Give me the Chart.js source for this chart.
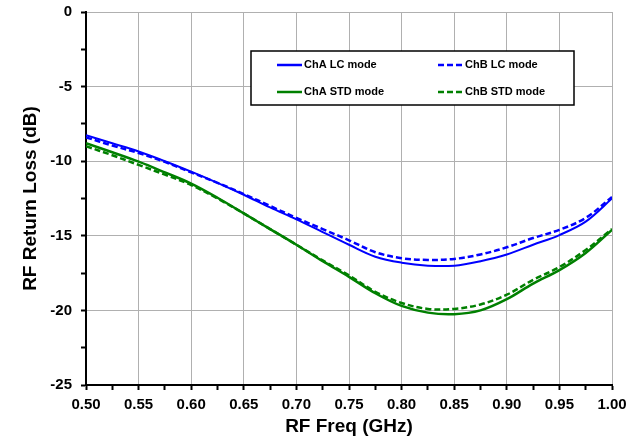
<!DOCTYPE html>
<html>
<head>
<meta charset="utf-8">
<script src="https://cdn.jsdelivr.net/npm/chart.js@4"></script>
<style>
  html, body { margin: 0; padding: 0; background: #fff; }
  #wrap { width: 641px; height: 438px; }
</style>
</head>
<body>
<div id="wrap"><canvas id="chart" width="641" height="438"></canvas></div>
<script>
/* ── data ── */
const FREQ = [0.500, 0.525, 0.550, 0.575, 0.600, 0.625, 0.650, 0.675, 0.700, 0.725, 0.750,
              0.775, 0.800, 0.825, 0.850, 0.875, 0.900, 0.925, 0.950, 0.975, 1.000];

const CHA_LC  = [-8.25, -8.8, -9.35, -10.0, -10.7, -11.45, -12.25, -13.1, -13.9, -14.75, -15.6,
                 -16.4, -16.8, -17.0, -17.0, -16.7, -16.25, -15.6, -14.95, -14.05, -12.5];
const CHB_LC  = [-8.4, -8.95, -9.45, -10.05, -10.75, -11.45, -12.2, -13.0, -13.8, -14.55, -15.3,
                 -16.1, -16.5, -16.62, -16.55, -16.25, -15.77, -15.15, -14.6, -13.8, -12.4];
const CHA_STD = [-8.8, -9.4, -10.03, -10.75, -11.5, -12.45, -13.5, -14.55, -15.6, -16.7, -17.75,
                 -18.85, -19.7, -20.15, -20.25, -20.0, -19.25, -18.2, -17.3, -16.15, -14.6];
const CHB_STD = [-9.0, -9.6, -10.25, -10.9, -11.6, -12.5, -13.5, -14.55, -15.6, -16.65, -17.65,
                 -18.75, -19.5, -19.9, -19.9, -19.6, -18.95, -17.95, -17.1, -15.95, -14.55];

const SERIES_LABELS = ["ChA LC mode", "ChB LC mode", "ChA STD mode", "ChB STD mode"];

const BLUE = "#0000ff";
const GREEN = "#008000";
const GRID = "#b0b0b0";
const FONT = "'Liberation Sans', Arial, sans-serif";

function pairs(ys) {
  return FREQ.map(function (f, i) { return { x: f, y: ys[i] }; });
}

function isMajor(v, step) {
  var q = v / step;
  return Math.abs(q - Math.round(q)) < 1e-6;
}

/* ── boxed legend inside the plot area ── */
const boxLegend = {
  id: "boxLegend",
  afterDraw: function (chart) {
    var ctx = chart.ctx;
    var a = chart.chartArea;
    var bx = a.left + 165, by = a.top + 39, bw = 323, bh = 54;
    ctx.save();
    ctx.fillStyle = "#fff";
    ctx.fillRect(bx, by, bw, bh);
    ctx.strokeStyle = "#000";
    ctx.lineWidth = 1.5;
    ctx.strokeRect(bx, by, bw, bh);

    ctx.font = "bold 11px " + FONT;
    ctx.textBaseline = "middle";
    ctx.textAlign = "left";
    chart.data.datasets.forEach(function (ds, i) {
      var col = i % 2, row = Math.floor(i / 2);
      var x0 = bx + 26 + col * 161;
      var y = by + 14 + row * 27;
      ctx.strokeStyle = ds.borderColor;
      ctx.lineWidth = 2.5;
      ctx.setLineDash(ds.borderDash || []);
      ctx.beginPath();
      ctx.moveTo(x0, y);
      ctx.lineTo(x0 + 25, y);
      ctx.stroke();
      ctx.setLineDash([]);
      ctx.fillStyle = "#000";
      ctx.fillText(ds.label, x0 + 27, y);
    });
    ctx.restore();
  }
};

new Chart(document.getElementById("chart").getContext("2d"), {
  type: "line",
  data: {
    datasets: [
      { label: SERIES_LABELS[0], data: pairs(CHA_LC),  borderColor: BLUE,  borderWidth: 2 },
      { label: SERIES_LABELS[1], data: pairs(CHB_LC),  borderColor: BLUE,  borderWidth: 2.5, borderDash: [6, 3] },
      { label: SERIES_LABELS[2], data: pairs(CHA_STD), borderColor: GREEN, borderWidth: 2.5 },
      { label: SERIES_LABELS[3], data: pairs(CHB_STD), borderColor: GREEN, borderWidth: 2.5, borderDash: [6, 3] },
    ],
  },
  options: {
    responsive: false,
    animation: false,
    layout: { padding: { left: 19, right: 29, top: 12, bottom: 0 } },
    elements: {
      point: { radius: 0 },
      line: { tension: 0.35, fill: false },
    },
    plugins: {
      legend: { display: false },
      tooltip: { enabled: false },
    },
    scales: {
      x: {
        type: "linear",
        min: 0.5,
        max: 1.0,
        ticks: {
          stepSize: 0.025,
          autoSkip: false,
          maxRotation: 0,
          padding: 6,
          color: "#000",
          font: { family: FONT, size: 15, weight: "bold" },
          callback: function (v) { return isMajor(v, 0.05) ? v.toFixed(2) : ""; },
        },
        grid: {
          color: function (c) { return c.tick && isMajor(c.tick.value, 0.05) ? GRID : "transparent"; },
          tickColor: "#000",
          tickLength: 5,
          tickWidth: 2,
        },
        border: { color: "#000", width: 2 },
        title: {
          display: true,
          text: "RF Freq (GHz)",
          color: "#000",
          padding: { top: 0, bottom: 0 },
          font: { family: FONT, size: 19, weight: "bold" },
        },
        afterFit: function (s) { s.height = 53; s.paddingRight = 0; s.paddingLeft = 0; },
      },
      y: {
        min: -25,
        max: 0,
        ticks: {
          stepSize: 2.5,
          autoSkip: false,
          padding: 9,
          color: "#000",
          font: { family: FONT, size: 15, weight: "bold" },
          callback: function (v) { return isMajor(v, 5) ? String(v) : ""; },
        },
        grid: {
          color: function (c) { return c.tick && isMajor(c.tick.value, 5) ? GRID : "transparent"; },
          tickColor: "#000",
          tickLength: 5,
          tickWidth: 2,
        },
        border: { color: "#000", width: 2 },
        title: {
          display: true,
          text: "RF Return Loss (dB)",
          color: "#000",
          padding: { top: 0, bottom: 0 },
          font: { family: FONT, size: 19, weight: "bold" },
        },
        afterFit: function (s) { s.width = 67; s.paddingTop = 0; s.paddingBottom = 0; },
      },
    },
  },
  plugins: [boxLegend],
});
</script>
</body>
</html>
